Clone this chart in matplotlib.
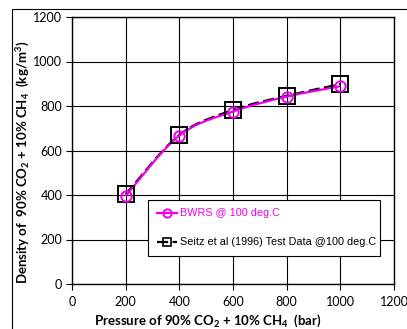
import matplotlib
matplotlib.use("Agg")
import matplotlib.pyplot as plt
import numpy as np
from matplotlib.path import Path
from matplotlib.patches import PathPatch, Rectangle

pressure = [200, 400, 600, 800, 1000]
bwrs_density = [396, 667, 775, 842, 889]
seitz_density = [403, 670, 782, 846, 898]

bwrs_label = "BWRS @ 100 deg.C"
seitz_label = "Seitz et al (1996) Test Data @100 deg.C"
x_ticks = [0, 200, 400, 600, 800, 1000, 1200]
y_ticks = [0, 200, 400, 600, 800, 1000, 1200]


def smooth_path(x, y):
    # catmull-rom through the points, written out as cubic bezier segments
    p = np.column_stack([x, y]).astype(float)
    verts = [p[0]]
    codes = [Path.MOVETO]
    n = len(p)
    for i in range(n - 1):
        p0 = p[i - 1] if i > 0 else p[i]
        p1 = p[i]
        p2 = p[i + 1]
        p3 = p[i + 2] if i + 2 < n else p[i + 1]
        c1 = p1 + (p2 - p0) / 6.0
        c2 = p2 - (p3 - p1) / 6.0
        verts += [c1, c2, p2]
        codes += [Path.CURVE4] * 3
    return Path(verts, codes)


plt.rcParams['font.family'] = ['Lato', 'DejaVu Sans']
plt.rcParams['mathtext.fontset'] = 'custom'
plt.rcParams['mathtext.rm'] = 'Lato'
plt.rcParams['mathtext.bf'] = 'Lato:bold'

fig = plt.figure(figsize=(4.07, 3.29), dpi=100)
ax = fig.add_axes([72 / 407, 1 - 284 / 329, 322 / 407, 267 / 329])

# outer chart frame
fig.patches.append(Rectangle((12 / 407, -0.1), 1.2, 1 - 9 / 329 + 0.1,
                             transform=fig.transFigure, fill=False,
                             edgecolor='black', linewidth=0.8))

ax.set_xlim(0, 1200)
ax.set_ylim(0, 1200)
ax.set_xticks(x_ticks)
ax.set_yticks(y_ticks)
ax.grid(True, color='black', linewidth=0.8)
ax.set_axisbelow(True)
for s in ax.spines.values():
    s.set_linewidth(1.0)
ax.tick_params(direction='out', length=4, width=0.8, labelsize=9, pad=3)
ax.tick_params(axis='x', pad=5)

# smoothed connecting lines
ax.add_patch(PathPatch(smooth_path(pressure, seitz_density), fill=False,
                       edgecolor='black', linewidth=1.6, linestyle=(0, (5, 2)),
                       zorder=3))
ax.add_patch(PathPatch(smooth_path(pressure, bwrs_density), fill=False,
                       edgecolor='#ee00ee', linewidth=1.6, zorder=4))

ax.plot(pressure, seitz_density, linestyle='none', marker='s', markersize=11,
        markerfacecolor='none', markeredgecolor='black', markeredgewidth=1.4,
        zorder=5)
ax.plot(pressure, bwrs_density, linestyle='none', marker='o', markersize=7.5,
        markerfacecolor='none', markeredgecolor='#ee00ee', markeredgewidth=1.4,
        zorder=6)

# legend handles
h1, = ax.plot([], [], color='#ee00ee', linewidth=1.6, marker='o', markersize=6,
              markerfacecolor='none', markeredgewidth=1.4, label=bwrs_label)
h2, = ax.plot([], [], color='black', linewidth=1.6, linestyle=(0, (5, 2)),
              marker='s', markersize=6, markerfacecolor='none',
              markeredgewidth=1.2, label=seitz_label)
leg = ax.legend(handles=[h1, h2], loc='lower left',
                bbox_to_anchor=(0.236, 0.105, 0.721, 0.217), mode='expand',
                prop={'family': ['Liberation Sans'], 'size': 7.8},
                handlelength=1.9, handletextpad=0.25, labelspacing=1.75,
                borderpad=0.8, borderaxespad=0, fancybox=False,
                edgecolor='black', framealpha=1)
leg.get_frame().set_linewidth(0.8)
leg.get_texts()[0].set_color('#ee00ee')
leg.set_zorder(10)

ax.set_xlabel(r'Pressure of 90% CO$_\mathbf{2}$ + 10% CH$_\mathbf{4}$  (bar)',
              fontsize=9.5, fontweight='bold')
ax.set_ylabel(r'Density of  90% CO$_\mathbf{2}$ + 10% CH$_\mathbf{4}$  (kg/m$^\mathbf{3}$)',
              fontsize=9.5, fontweight='bold')
ax.xaxis.set_label_coords(0.421, -0.107)
ax.yaxis.set_label_coords(-0.125, 0.457)

fig.savefig('out.png', dpi=100)
